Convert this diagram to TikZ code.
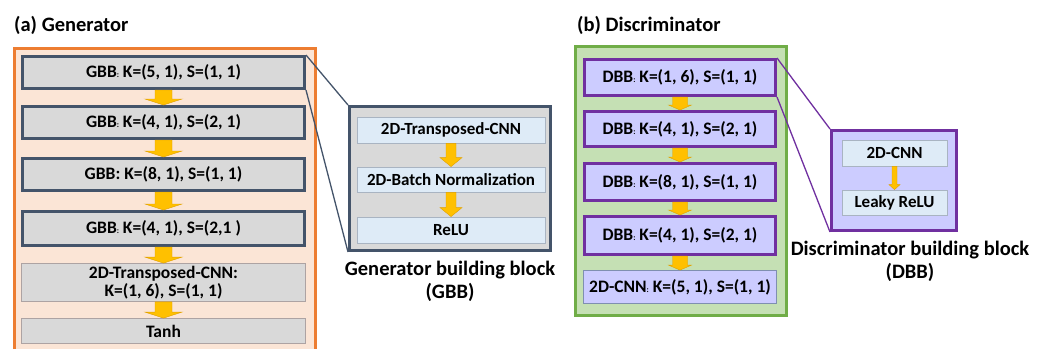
\documentclass[tikz,border=0pt]{standalone}
\usepackage{fontspec}
\setmainfont{Carlito}
\usetikzlibrary{calc}

\definecolor{genorange}{HTML}{ED7D31}
\definecolor{genpeach}{HTML}{FBE5D6}
\definecolor{slate}{HTML}{44546A}
\definecolor{boxgray}{HTML}{D9D9D9}
\definecolor{thingray}{HTML}{ADA3A3}
\definecolor{disgreen}{HTML}{70AD47}
\definecolor{dislight}{HTML}{C5E0B4}
\definecolor{dispurple}{HTML}{7030A0}
\definecolor{lavender}{HTML}{CCCCFF}
\definecolor{paleblue}{HTML}{DEEBF7}
\definecolor{paleedge}{HTML}{A9B4C2}
\definecolor{cnnedge}{HTML}{7F8FB0}
\definecolor{arrowfill}{HTML}{FFC000}
\definecolor{arrowedge}{HTML}{E0A000}

% small colon as printed after GBB / DBB
\newcommand{\tinycolon}{{\fontsize{8}{8}\selectfont:}}
% fat down arrow from one box to the next
\newcommand{\flowarrow}[5]{%
  \filldraw[blockarrow] let \p1=(#1.south), \p2=(#2.north) in
    (\x1-#4,\y1) -- (\x1+#4,\y1) -- (\x1+#4,\y2+#5) -- (\x1+#3,\y2+#5)
    -- (\x1,\y2) -- (\x1-#3,\y2+#5) -- (\x1-#4,\y2+#5) -- cycle;}

\begin{document}
\begin{tikzpicture}[x=1pt,y=-1pt,
    every node/.style={font=\fontsize{17.5}{18}\selectfont\bfseries, inner sep=0pt},
    title/.style={font=\fontsize{20.5}{21}\selectfont\bfseries, anchor=west},
    gbbbox/.style={draw=slate, line width=3pt, fill=boxgray, minimum width=282pt},
    plainbox/.style={draw=thingray, line width=0.8pt, fill=boxgray, minimum width=284pt, align=center},
    dbbbox/.style={draw=dispurple, line width=3pt, fill=lavender, minimum width=191pt},
    innerbox/.style={draw=paleedge, line width=0.8pt, fill=paleblue, font=\fontsize{17}{18}\selectfont\bfseries},
    blocklabel/.style={align=center, font=\fontsize{20.5}{23}\selectfont\bfseries},
    blockarrow/.style={fill=arrowfill, draw=arrowedge, line width=0.4pt},
    zoomline/.style={line width=1.3pt}]
\useasboundingbox[fill=white] (0,0) rectangle (1046,349);

% (a) generator
\node[title] (gentitle) at (14,25) {(a) Generator};
\fill[genpeach] (13,47) rectangle (317,349);
\draw[genorange, line width=3pt] (14.5,349) -- (14.5,48.5) -- (315.5,48.5) -- (315.5,349);
\node[gbbbox, minimum height=32pt] (g1) at (163.5,72.5) {GBB\tinycolon{} K=(5, 1), S=(1, 1)};
\node[gbbbox, minimum height=32pt] (g2) at (163.5,122.5) {GBB\tinycolon{} K=(4, 1), S=(2, 1)};
\node[gbbbox, minimum height=32pt] (g3) at (163.5,174.5) {GBB: K=(8, 1), S=(1, 1)};
\node[gbbbox, minimum height=34pt] (g4) at (163.5,228.5) {GBB\tinycolon{} K=(4, 1), S=(2,1 )};
\node[plainbox, minimum height=38pt] (g5) at (163.5,282.5) {2D-Transposed-CNN:\\K=(1, 6), S=(1, 1)};
\node[plainbox, minimum height=25pt] (g6) at (163.5,331) {Tanh};
\flowarrow{g1}{g2}{18.5pt}{8.5pt}{6pt}
\flowarrow{g2}{g3}{18.5pt}{8.5pt}{6pt}
\flowarrow{g3}{g4}{18.5pt}{8.5pt}{6pt}
\flowarrow{g4}{g5}{18.5pt}{8.5pt}{6pt}
\flowarrow{g5}{g6}{18.5pt}{8.5pt}{6pt}

% generator building block
\node[draw=slate, line width=3pt, fill=boxgray, minimum width=201pt, minimum height=144pt] (gbb) at (450,178.5) {};
\node[innerbox, minimum width=188pt, minimum height=26pt] (gb1) at (451,130) {2D-Transposed-CNN};
\node[innerbox, minimum width=188pt, minimum height=25pt] (gb2) at (451,179.5) {2D-Batch Normalization};
\node[innerbox, minimum width=188pt, minimum height=26pt] (gb3) at (451,230) {ReLU};
\flowarrow{gb1}{gb2}{11pt}{5pt}{9pt}
\flowarrow{gb2}{gb3}{11pt}{5pt}{9pt}
\node[blocklabel] (gbblabel) at (450,281.5) {Generator building block\\(GBB)};
\draw[zoomline, slate] (g1.north east) -- (gbb.north west);
\draw[zoomline, slate] (g1.south east) -- (gbb.south west);

% (b) discriminator
\node[title] (distitle) at (577,25) {(b) Discriminator};
\draw[disgreen, fill=dislight, line width=3pt] (575.5,46.5) rectangle (786.5,315.5);
\node[dbbbox, minimum height=36pt] (d1) at (680,77.5) {DBB\tinycolon{} K=(1, 6), S=(1, 1)};
\node[dbbbox, minimum height=35pt] (d2) at (680,129) {DBB\tinycolon{} K=(4, 1), S=(2, 1)};
\node[dbbbox, minimum height=37pt] (d3) at (680,182) {DBB\tinycolon{} K=(8, 1), S=(1, 1)};
\node[dbbbox, minimum height=38pt] (d4) at (680,235.5) {DBB\tinycolon{} K=(4, 1), S=(2, 1)};
\node[draw=cnnedge, line width=0.8pt, fill=lavender, minimum width=193pt, minimum height=33pt] (d5) at (680,287) {2D-CNN\tinycolon{} K=(5, 1), S=(1, 1)};
\flowarrow{d1}{d2}{11.5pt}{7.5pt}{5pt}
\flowarrow{d2}{d3}{11.5pt}{7.5pt}{5pt}
\flowarrow{d3}{d4}{11.5pt}{7.5pt}{5pt}
\flowarrow{d4}{d5}{11.5pt}{7.5pt}{5pt}

% discriminator building block
\node[draw=dispurple, line width=3pt, fill=lavender, minimum width=125pt, minimum height=100pt] (dbb) at (894,180.5) {};
\node[innerbox, minimum width=105pt, minimum height=26pt] (db1) at (894.5,153) {2D-CNN};
\node[innerbox, minimum width=105pt, minimum height=25pt] (db2) at (894.5,202.5) {Leaky ReLU};
\flowarrow{db1}{db2}{5.5pt}{2.5pt}{5pt}
\node[blocklabel] (dbblabel) at (910,261.5) {Discriminator building block\\(DBB)};
\draw[zoomline, dispurple] (d1.north east) -- (dbb.north west);
\draw[zoomline, dispurple] (d1.south east) -- (dbb.south west);
\end{tikzpicture}
\end{document}
